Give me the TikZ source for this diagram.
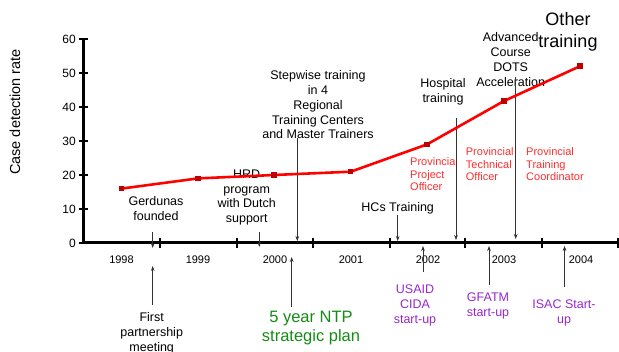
\documentclass[tikz,border=0pt]{standalone}
\usepackage{fontspec}
\setmainfont{Liberation Sans}
\usetikzlibrary{arrows.meta}
\definecolor{lnred}{RGB}{255,0,0}
\definecolor{mkred}{RGB}{190,0,0}
\definecolor{lbred}{RGB}{255,45,45}
\definecolor{lbpur}{RGB}{150,40,200}
\definecolor{lbgrn}{RGB}{20,140,20}
\definecolor{arrgray}{RGB}{50,50,50}
\tikzset{
  txt/.style={font=\fontsize{12.5}{14.8}\selectfont, align=center, inner sep=0pt, anchor=north},
  redtxt/.style={font=\fontsize{11}{12.5}\selectfont, align=left, inner sep=0pt, anchor=north west, text=lbred},
  purtxt/.style={font=\fontsize{12.5}{15}\selectfont, align=center, inner sep=0pt, anchor=north, text=lbpur},
  yeartxt/.style={font=\fontsize{11}{13}\selectfont, inner sep=0pt},
  ticktxt/.style={font=\fontsize{12}{14}\selectfont, inner sep=0pt, anchor=east},
  axisline/.style={line width=3pt, black},
  tickline/.style={line width=2.6pt, black},
  evarrow/.style={draw=arrgray, line width=0.6pt, -{Stealth[length=5pt,width=3.6pt]}},
  dataline/.style={draw=lnred, line width=2.6pt, line join=round},
  datamark/.style={fill=mkred, minimum size=5.5pt, inner sep=0pt, draw=none, rectangle}
}
\begin{document}
\begin{tikzpicture}[x=1pt,y=-1pt]
\useasboundingbox (0,0) rectangle (619,352);

% axes
\coordinate (O) at (83,243);
\coordinate (ytop) at (83,39);
\coordinate (xend) at (618,243);
\draw[axisline] (ytop) -- (O) -- (xend);
\foreach \v/\yy in {0/243,10/209,20/175,30/141,40/107,50/73,60/39}{
  \draw[tickline] (79,\yy) -- (88,\yy);
  \node[ticktxt] (yt\v) at (76,\yy) {\v};
}
\foreach \xx in {160,237,313,390,465,542,618}{
  \draw[tickline] (\xx,238) -- (\xx,248);
}
\foreach \yr/\xx in {1998/121.5,1999/198,2000/275,2001/351,2002/428,2003/504,2004/581}{
  \node[yeartxt] (yr\yr) at (\xx,260) {\yr};
}
\node[font=\fontsize{14.5}{16}\selectfont, rotate=90, inner sep=0pt] (ylab) at (15,112) {Case detection rate};

% event labels
\node[txt] (gerd) at (156,196.2) {Gerdunas\\founded};
\node[txt] (hrd) at (246.7,169.5) {HRD\\program\\with Dutch\\support};
\node[txt] (step) at (318,70.5) {Stepwise training\\in 4\\Regional\\Training Centers\\and Master Trainers};
\node[txt] (hosp) at (443,78.5) {Hospital\\training};
\node[txt] (adv) at (510.7,32.5) {Advanced\\Course\\DOTS\\Acceleration};
\node[txt, font=\fontsize{18}{22}\selectfont] (other) at (568,12.5) {Other\\training};
\node[txt] (hcs) at (397.7,202.2) {HCs Training};
\node[txt] (first) at (151.7,312.2) {First\\partnership\\meeting};
\node[txt, font=\fontsize{16.5}{19}\selectfont, text=lbgrn] (ntp) at (311,310.7) {5 year NTP\\strategic plan};
\node[redtxt] (ppo) at (410,157.7) {Provincial\\Project\\Officer};
\node[redtxt] (pto) at (465.7,147.7) {Provincial\\Technical\\Officer};
\node[redtxt] (ptc) at (526,147.7) {Provincial\\Training\\Coordinator};
\node[purtxt] (usaid) at (415,284.5) {USAID\\CIDA\\start-up};
\node[purtxt] (gfatm) at (488,292.2) {GFATM\\start-up};
\node[purtxt] (isac) at (564,299.5) {ISAC Start-\\up};

% event arrows
\coordinate (gerdA) at (152.7,232); \coordinate (gerdB) at (152.7,248);
\coordinate (firstA) at (152.7,305); \coordinate (firstB) at (152.7,266);
\coordinate (hrdA) at (259.3,232); \coordinate (hrdB) at (259.3,247);
\coordinate (stepA) at (297.3,138); \coordinate (stepB) at (297.3,241);
\coordinate (ntpA) at (291.7,307); \coordinate (ntpB) at (291.7,257);
\coordinate (hcsA) at (397.7,215); \coordinate (hcsB) at (397.7,241);
\coordinate (usaidA) at (423,272); \coordinate (usaidB) at (423,246);
\coordinate (hospA) at (456,118); \coordinate (hospB) at (456,240);
\coordinate (gfatmA) at (489,285); \coordinate (gfatmB) at (489,246);
\coordinate (advA) at (515.7,77); \coordinate (advB) at (515.7,239);
\coordinate (isacA) at (564.5,287); \coordinate (isacB) at (564.5,246);
\foreach \e in {gerd,first,hrd,step,ntp,hcs,usaid,hosp,gfatm,adv,isac}{
  \draw[evarrow] (\e A) -- (\e B);
}

% data
\coordinate (d1998) at (121.5,188.6);
\coordinate (d1999) at (198,178.4);
\coordinate (d2000) at (274,175);
\coordinate (d2001) at (350.7,171.7);
\coordinate (d2002) at (427,144.4);
\coordinate (d2003) at (504,101);
\coordinate (d2004) at (580,66.2);
\draw[dataline] (d1998) -- (d1999) -- (d2000) -- (d2001) -- (d2002) -- (d2003) -- (d2004);
\foreach \yr in {1998,1999,2000,2001,2002,2003,2004}{
  \node[datamark] (m\yr) at (d\yr) {};
}
\end{tikzpicture}
\end{document}
